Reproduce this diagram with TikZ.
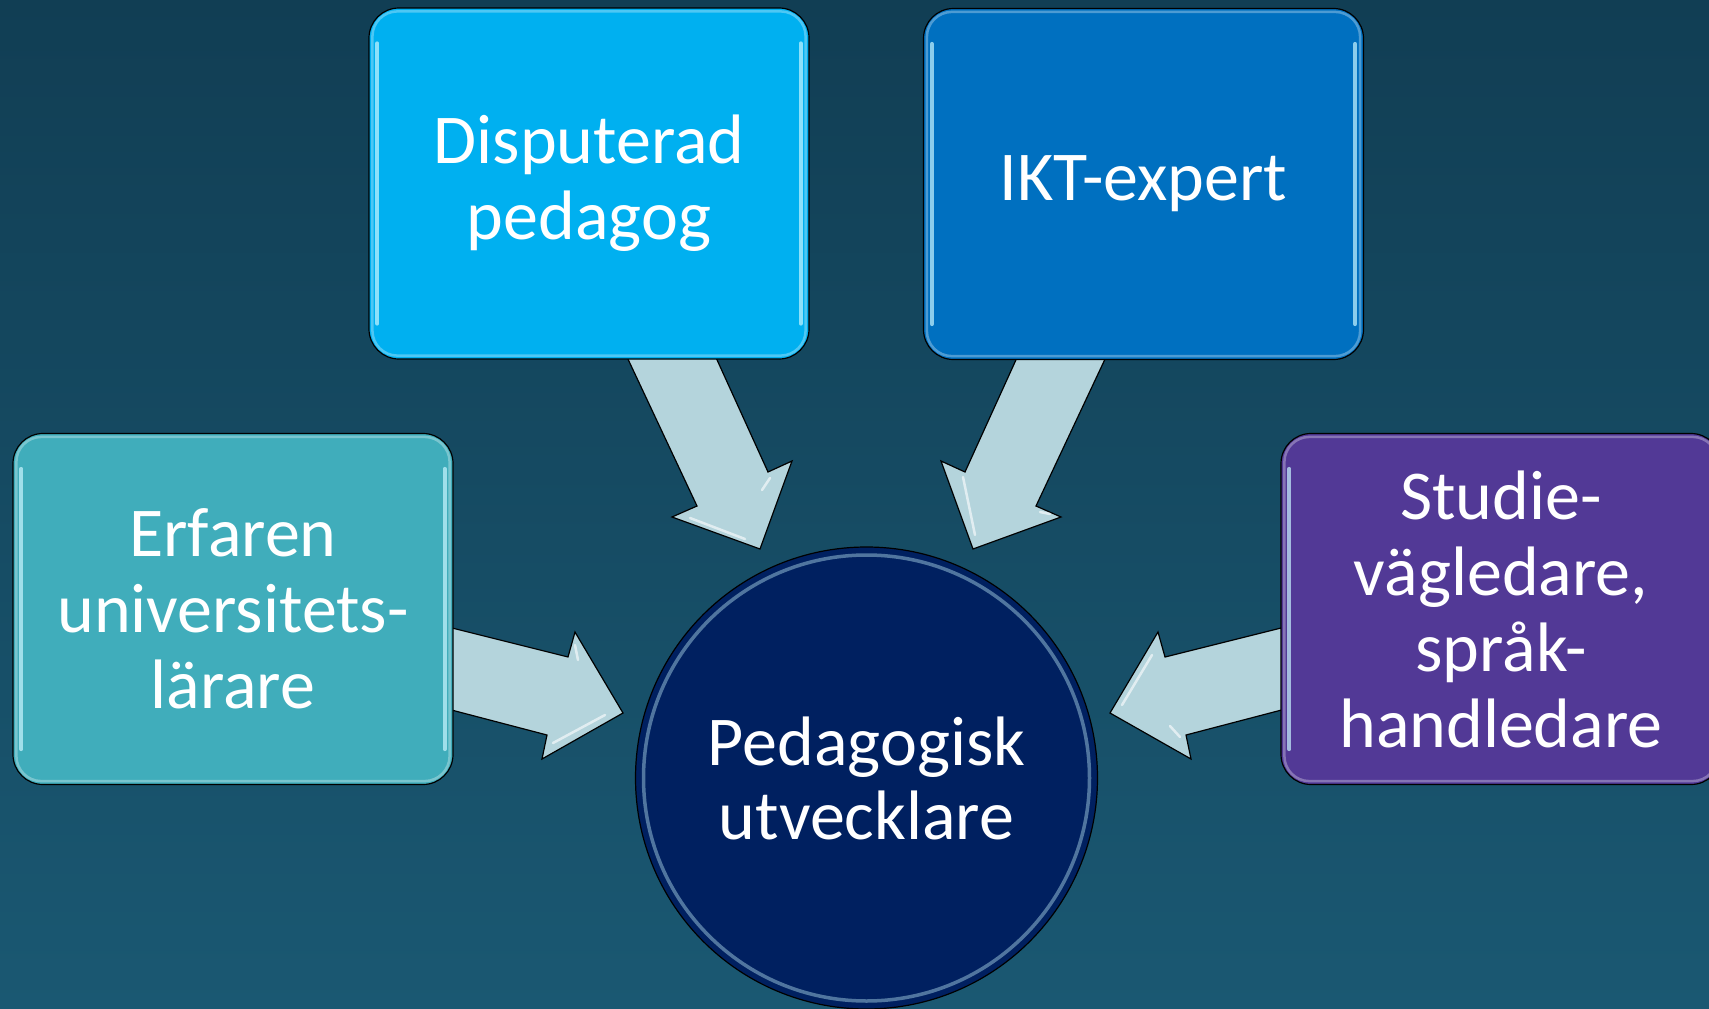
\documentclass[tikz,border=0pt]{standalone}
\usepackage{fontspec}
\setmainfont{Carlito}
\usetikzlibrary{calc}
\definecolor{bgtop}{RGB}{17,62,84}
\definecolor{bgbot}{RGB}{26,88,114}
\definecolor{cdisp}{RGB}{0,176,240}
\definecolor{cikt}{RGB}{0,112,192}
\definecolor{cerf}{RGB}{64,173,187}
\definecolor{cstud}{RGB}{82,57,150}
\definecolor{cped}{RGB}{0,32,96}
\definecolor{carrow}{RGB}{180,212,220}
\definecolor{glintc}{RGB}{200,245,255}
\begin{document}
\begin{tikzpicture}[x=1pt,y=-1pt,
  box/.style={draw=black, line width=1.2pt, rounded corners=30pt,
    minimum width=440pt, minimum height=351pt, inner sep=0pt,
    text=white, align=center, font=\fontsize{70}{76}\selectfont},
  bigarrow/.style={fill=carrow, draw=black, line width=1.2pt, line join=miter},
  boxglint/.style={draw=glintc, line width=4pt, opacity=0.7, line cap=round},
  boxrim/.style={draw=white, line width=2.5pt, opacity=0.3, rounded corners=25pt},
  headglint/.style={draw=white, line width=2.5pt, opacity=0.6, line cap=round},
]
\useasboundingbox (0,0) rectangle (1709,1009);
\clip (0,0) rectangle (1709,1009);
\shade[top color=bgtop, bottom color=bgbot] (0,0) rectangle (1709,1009);

% block arrows
\draw[bigarrow] (619,340) -- (697,506) -- (672,517) -- (760,549) -- (792,461) -- (768,472) -- (708,340) -- cycle;
\draw[bigarrow] (1114,340) -- (1036,506) -- (1061,517) -- (973,549) -- (941,461) -- (965,472) -- (1025,340) -- cycle;
\draw[bigarrow] (440,625) -- (568,657) -- (575,632) -- (623,713) -- (542,759) -- (547,735) -- (440,707) -- cycle;
\draw[bigarrow] (1293,625) -- (1165,657) -- (1158,632) -- (1110,713) -- (1191,759) -- (1186,735) -- (1293,707) -- cycle;
% glints on arrow heads
\draw[headglint] (690,518) -- (745,539);
\draw[headglint] (770,478) -- (762,490);
\draw[headglint] (963,477) -- (975,535);
\draw[headglint] (1040,512) -- (1050,514);
\draw[headglint] (553,743) -- (605,715);
\draw[headglint] (575,645) -- (578,660);
\draw[headglint] (1122,705) -- (1152,655);
\draw[headglint] (1170,726) -- (1180,737);

% boxes
\node[box, fill=cdisp] (disp) at (589,183.5) {Disputerad\\pedagog};
\node[box, fill=cikt] (ikt) at (1143.5,184) {IKT-expert};
\node[box, fill=cerf] (erf) at (233,609) {Erfaren\\universitets-\\lärare};
\node[box, fill=cstud] (stud) at (1501,609) {Studie-\\vägledare,\\språk-\\handledare};

\foreach \b in {disp,ikt,erf,stud} {
  \draw[boxrim] ($(\b.north west)+(4,4)$) rectangle ($(\b.south east)+(-4,-4)$);
  \draw[boxglint] ($(\b.north west)+(9,36)$) -- ($(\b.south west)+(9,-36)$);
  \draw[boxglint] ($(\b.north east)+(-9,36)$) -- ($(\b.south east)+(-9,-36)$);
}

% centre circle
\node[circle, draw=black, line width=1.2pt, fill=cped, minimum size=462pt,
  inner sep=0pt, text=white, align=center, font=\fontsize{70}{74}\selectfont]
  (ped) at (866.5,778) {Pedagogisk\\utvecklare};
\draw[glintc, opacity=0.4, line width=3.5pt] (ped.center) circle (223);
\end{tikzpicture}
\end{document}
